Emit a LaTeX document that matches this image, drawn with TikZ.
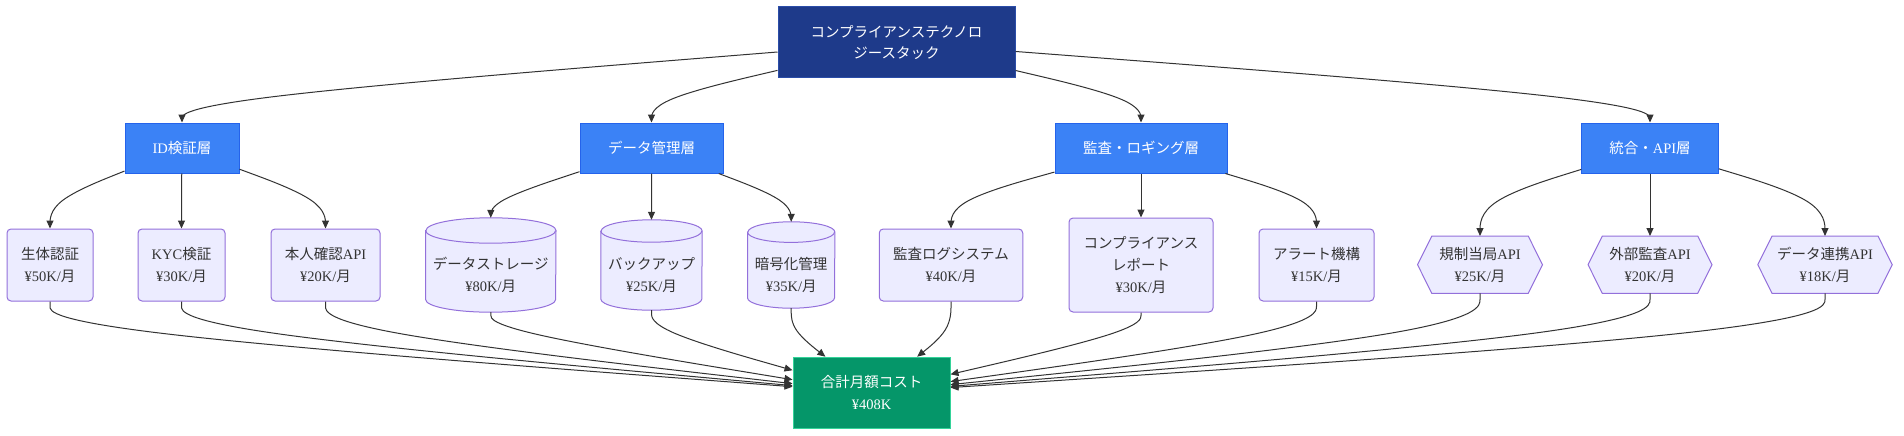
\documentclass[tikz,border=0pt]{standalone}
\usepackage{fontspec}
\setmainfont{Liberation Serif}
\newfontfamily\jpfont{Noto Sans CJK JP}
\newcommand\J[1]{{\jpfont #1}}
\newcommand\cyltext[2]{\raisebox{-15pt}[0pt][0pt]{\begin{tabular}{@{}c@{}}#1\\#2\end{tabular}}}
\usetikzlibrary{calc,arrows.meta,backgrounds}
\definecolor{topfill}{HTML}{1E3A8A}
\definecolor{topline}{HTML}{2B4DA8}
\definecolor{layfill}{HTML}{3B82F6}
\definecolor{layline}{HTML}{2563EB}
\definecolor{leaffill}{HTML}{ECECFF}
\definecolor{leafline}{HTML}{9370DB}
\definecolor{totfill}{HTML}{059669}
\definecolor{totline}{HTML}{34D399}
\definecolor{edgec}{HTML}{333333}
\definecolor{txt}{HTML}{333333}
\tikzset{
  base/.style={inner sep=0pt, align=center, font=\fontsize{14.5}{21.75}\selectfont},
  topbox/.style={base, fill=topfill, draw=topline, line width=1pt, text=white},
  laybox/.style={base, fill=layfill, draw=layline, line width=1pt, text=white},
  leafbox/.style={base, fill=leaffill, draw=leafline, line width=1pt, rounded corners=4pt, text=txt},
  leafplain/.style={base, text=txt},
  leafshape/.style={fill=leaffill, draw=leafline, line width=1pt},
  totbox/.style={base, fill=totfill, draw=totline, line width=1pt, text=white},
  edge/.style={draw=edgec, line width=1pt, -{Triangle[length=8pt,width=7pt]}},
}
\newcommand\bedge[3]{%
  \path (#1) -- (#2) coordinate[pos=0] (p0);
  \path (#2) -- (#3) coordinate[pos=1] (p2);
  \coordinate (p1) at (#2);
  \coordinate (q1) at ($(p0)!2/3!(p1)$);
  \coordinate (q2) at ($(p1)!1/3!(p2)$);
  \draw[edge] (p0) -- ($(p0)!1/6!(p1)$) .. controls ($(p0)!1/3!(p1)$) and (q1) .. ($(q1)!0.5!(q2)$) .. controls (q2) and ($(p1)!2/3!(p2)$) .. ($(p1)!5/6!(p2)$) -- (p2);
}
\newcommand\cylshape[3]{%
  \filldraw[leafshape] ([yshift=-#3pt]#1.north west) -- ([yshift=#3pt]#1.south west)
    arc[start angle=180,end angle=360,x radius=#2pt,y radius=#3pt]
    -- ([yshift=-#3pt]#1.north east)
    arc[start angle=0,end angle=180,x radius=#2pt,y radius=#3pt] -- cycle;
  \draw[leafshape, fill=none] ([yshift=-#3pt]#1.north west) arc[start angle=180,end angle=360,x radius=#2pt,y radius=#3pt];
}
\newcommand\hexshape[2]{%
  \filldraw[leafshape] (#1.west) -- ([xshift=#2pt]#1.north west) -- ([xshift=-#2pt]#1.north east) -- (#1.east) -- ([xshift=-#2pt]#1.south east) -- ([xshift=#2pt]#1.south west) -- cycle;
}
\begin{document}
\begin{tikzpicture}[x=1pt,y=-1pt]
\useasboundingbox (0,0) rectangle (1904,436);

% top
\node[topbox, minimum width=237pt, minimum height=71pt] (top) at (896.5,42.5) {\J{コンプライアンステクノロ}\\\J{ジースタック}};

% layers
\node[laybox, minimum width=114pt, minimum height=50pt] (L1) at (182,148) {ID\J{検証層}};
\node[laybox, minimum width=143pt, minimum height=50pt] (L2) at (651.5,148) {\J{データ管理層}};
\node[laybox, minimum width=172pt, minimum height=50pt] (L3) at (1141,148) {\J{監査・ロギング層}};
\node[laybox, minimum width=136.5pt, minimum height=50pt] (L4) at (1650,148) {\J{統合・}API\J{層}};

% leaves
\node[leafbox, minimum width=86pt, minimum height=72pt] (a1) at (50,265) {\J{生体認証}\\¥50K/\J{月}};
\node[leafbox, minimum width=87pt, minimum height=72pt] (a2) at (181.5,265) {KYC\J{検証}\\¥30K/\J{月}};
\node[leafbox, minimum width=109pt, minimum height=72pt] (a3) at (325.5,265) {\J{本人確認}API\\¥20K/\J{月}};

\node[leafplain, minimum width=130pt, minimum height=94pt] (b1) at (490.8,265) {\cyltext{\J{データストレージ}}{¥80K/\J{月}}};
\node[leafplain, minimum width=101pt, minimum height=90pt] (b2) at (651.5,265) {\cyltext{\J{バックアップ}}{¥25K/\J{月}}};
\node[leafplain, minimum width=87pt, minimum height=86pt] (b3) at (791.2,265) {\cyltext{\J{暗号化管理}}{¥35K/\J{月}}};

\node[leafbox, minimum width=143.5pt, minimum height=72pt] (c1) at (951,265) {\J{監査ログシステム}\\¥40K/\J{月}};
\node[leafbox, minimum width=144pt, minimum height=94pt] (c2) at (1141,265) {\J{コンプライアンス}\\\J{レポート}\\¥30K/\J{月}};
\node[leafbox, minimum width=115pt, minimum height=72pt] (c3) at (1316.5,265) {\J{アラート機構}\\¥15K/\J{月}};

\node[leafplain, minimum width=124.5pt, minimum height=57pt] (d1) at (1480,264.7) {\J{規制当局}API\\¥25K/\J{月}};
\node[leafplain, minimum width=123.5pt, minimum height=57pt] (d2) at (1650,264.7) {\J{外部監査}API\\¥20K/\J{月}};
\node[leafplain, minimum width=134pt, minimum height=57pt] (d3) at (1825,264.7) {\J{データ連携}API\\¥18K/\J{月}};

\node[totbox, minimum width=157pt, minimum height=71pt] (tot) at (871.5,392.7) {\J{合計月額コスト}\\¥408K};

\begin{scope}[on background layer]
  \fill[white] (0,0) rectangle (1904,436);
  \cylshape{b1}{65}{12.7}
  \cylshape{b2}{50.5}{11.2}
  \cylshape{b3}{43.5}{10.3}
  \hexshape{d1}{14.25}
  \hexshape{d2}{14.25}
  \hexshape{d3}{14.25}
\end{scope}

% bend coordinates
\coordinate (t1) at (182,100);
\coordinate (t2) at (651.5,100);
\coordinate (t3) at (1141,100);
\coordinate (t4) at (1650,100);
\foreach \n/\x in {a1/50,a2/181.5,a3/325.5,b1/490.8,b2/651.5,b3/791.2,c1/951,c2/1141,c3/1316.5,d1/1480,d2/1650,d3/1825}{
  \coordinate (u\n) at (\x,201);
  \coordinate (v\n) at (\x,330);
}

% edges
\bedge{top}{t1}{L1}
\bedge{top}{t2}{L2}
\bedge{top}{t3}{L3}
\bedge{top}{t4}{L4}

\bedge{L1}{ua1}{a1}
\bedge{L1}{ua2}{a2}
\bedge{L1}{ua3}{a3}
\bedge{L2}{ub1}{b1}
\bedge{L2}{ub2}{b2}
\bedge{L2}{ub3}{b3}
\bedge{L3}{uc1}{c1}
\bedge{L3}{uc2}{c2}
\bedge{L3}{uc3}{c3}
\bedge{L4}{ud1}{d1}
\bedge{L4}{ud2}{d2}
\bedge{L4}{ud3}{d3}

\foreach \n in {a1,a2,a3,b1,b2,b3,c1,c2,c3,d1,d2,d3}{
  \bedge{\n}{v\n}{tot}
}
\end{tikzpicture}
\end{document}
